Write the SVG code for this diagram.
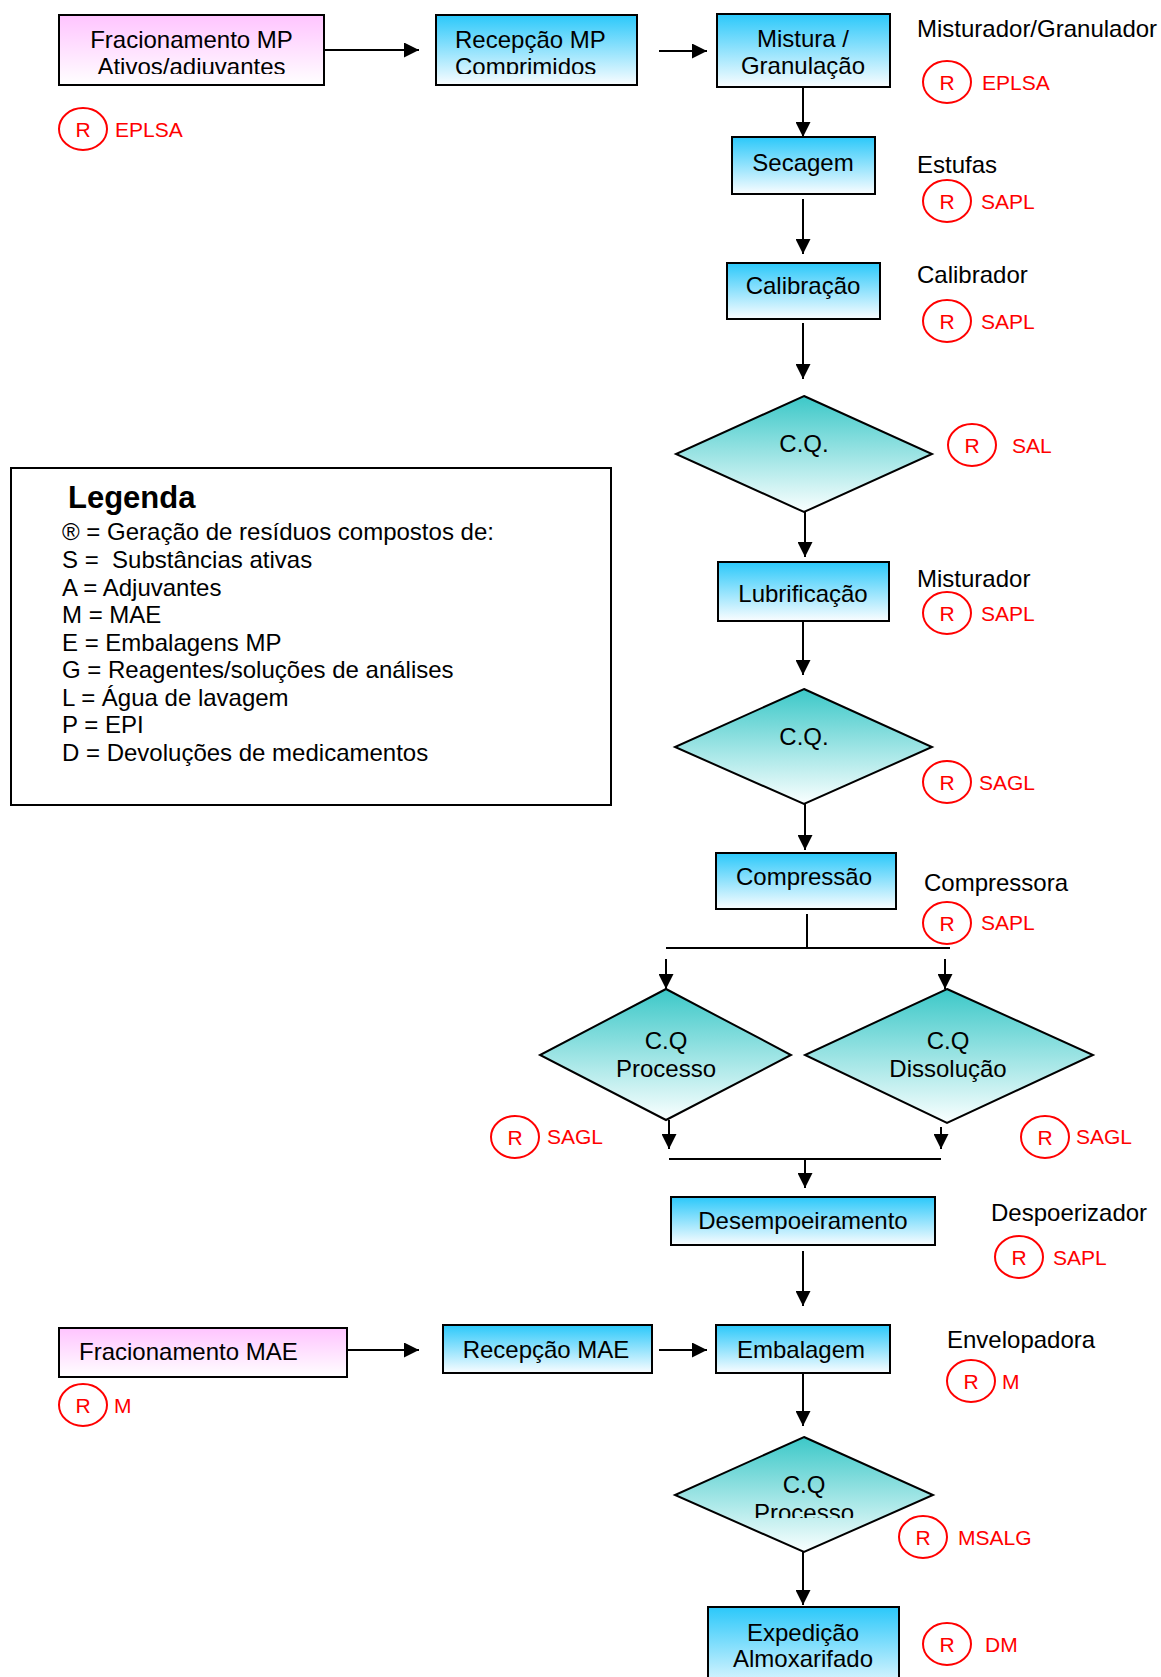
<svg xmlns="http://www.w3.org/2000/svg" width="1161" height="1677" viewBox="0 0 1161 1677">
<style>
text{font-family:"Liberation Sans",Arial,sans-serif;fill:#000}
.t{font-size:24px;text-anchor:middle}
.ts{font-size:24px}
.lbl{font-size:24px}
.box{stroke:#000;stroke-width:2}
.blue{fill:url(#gBlue)}
.pink{fill:url(#gPink)}
.dia{fill:url(#gTeal);stroke:#000;stroke-width:2}
.rc{fill:none;stroke:#FF0000;stroke-width:2}
.rr{font-size:21px;fill:#FF0000;text-anchor:middle}
.rt{font-size:21px;fill:#FF0000}
.ln{stroke:#000;stroke-width:2;fill:none}
.ar{stroke:#000;stroke-width:2;fill:none;marker-end:url(#ah)}
.leg{font-size:24px;white-space:pre}
</style>
<defs>
<linearGradient id="gBlue" x1="0" y1="0" x2="0" y2="1">
<stop offset="0" stop-color="#2BC8FA"/><stop offset="1" stop-color="#FAFDFF"/>
</linearGradient>
<linearGradient id="gPink" x1="0" y1="0" x2="0" y2="1">
<stop offset="0" stop-color="#FFC4FF"/><stop offset="1" stop-color="#FFFFFF"/>
</linearGradient>
<linearGradient id="gTeal" x1="0" y1="0" x2="0" y2="1">
<stop offset="0" stop-color="#3CC8C8"/><stop offset="1" stop-color="#FAFFFF"/>
</linearGradient>
<marker id="ah" markerWidth="15" markerHeight="15" refX="15" refY="7.5" orient="auto" markerUnits="userSpaceOnUse">
<path d="M0,0 L15,7.5 L0,15 z" fill="#000"/>
</marker>
<clipPath id="clipTop"><rect x="0" y="0" width="700" height="74"/></clipPath>
<clipPath id="clipCQ3"><rect x="600" y="1400" width="400" height="118"/></clipPath>
</defs>

<g id="connectors">
<line class="ar" x1="324" y1="50" x2="419" y2="50"/>
<line class="ar" x1="659" y1="51" x2="707" y2="51"/>
<line class="ar" x1="803" y1="87" x2="803" y2="137"/>
<line class="ar" x1="803" y1="199" x2="803" y2="254"/>
<line class="ar" x1="803" y1="323" x2="803" y2="379"/>
<line class="ar" x1="805" y1="512" x2="805" y2="557"/>
<line class="ar" x1="803" y1="621" x2="803" y2="675"/>
<line class="ar" x1="805" y1="804" x2="805" y2="850"/>
<line class="ln" x1="807" y1="914" x2="807" y2="948"/>
<line class="ln" x1="666" y1="948" x2="950" y2="948"/>
<line class="ar" x1="666" y1="959" x2="666" y2="989"/>
<line class="ar" x1="945" y1="959" x2="945" y2="989"/>
<line class="ar" x1="669" y1="1120" x2="669" y2="1149"/>
<line class="ar" x1="941" y1="1127" x2="941" y2="1149"/>
<line class="ln" x1="669" y1="1159" x2="941" y2="1159"/>
<line class="ar" x1="805" y1="1159" x2="805" y2="1188"/>
<line class="ar" x1="803" y1="1251" x2="803" y2="1306"/>
<line class="ar" x1="347" y1="1350" x2="419" y2="1350"/>
<line class="ar" x1="659" y1="1350" x2="707" y2="1350"/>
<line class="ar" x1="803" y1="1372" x2="803" y2="1426"/>
<line class="ar" x1="803" y1="1552" x2="803" y2="1605"/>
</g>

<g id="n-frac-mp">
<rect class="box pink" x="59" y="15" width="265" height="70"/>
<text class="t" x="191.5" y="48">Fracionamento MP</text>
<text class="t" x="191.5" y="75" clip-path="url(#clipTop)">Ativos/adiuvantes</text>
</g>
<g id="n-recep-mp">
<rect class="box blue" x="436" y="15" width="201" height="70"/>
<text class="ts" x="455" y="48">Recepção MP</text>
<text class="ts" x="455" y="75" clip-path="url(#clipTop)">Comprimidos</text>
</g>
<g id="n-mistura">
<rect class="box blue" x="717" y="14" width="173" height="73"/>
<text class="t" x="803" y="47">Mistura /</text>
<text class="t" x="803" y="74">Granulação</text>
</g>
<g id="n-secagem">
<rect class="box blue" x="732" y="137" width="143" height="57"/>
<text class="t" x="803" y="171">Secagem</text>
</g>
<g id="n-calibracao">
<rect class="box blue" x="727" y="263" width="153" height="56"/>
<text class="t" x="803" y="294">Calibração</text>
</g>
<g id="n-cq1">
<polygon class="dia" points="804,396 932,454 804,512 676,454"/>
<text class="t" x="804" y="452">C.Q.</text>
</g>
<g id="n-lubrificacao">
<rect class="box blue" x="718" y="562" width="171" height="59"/>
<text class="t" x="803" y="602">Lubrificação</text>
</g>
<g id="n-cq2">
<polygon class="dia" points="804,689 932,747 804,804 675,747"/>
<text class="t" x="804" y="745">C.Q.</text>
</g>
<g id="n-compressao">
<rect class="box blue" x="716" y="853" width="180" height="56"/>
<text class="t" x="804" y="885">Compressão</text>
</g>
<g id="n-cq-processo">
<polygon class="dia" points="666,989 791,1055 666,1120 540,1055"/>
<text class="t" x="666" y="1049">C.Q</text>
<text class="t" x="666" y="1077">Processo</text>
</g>
<g id="n-cq-dissolucao">
<polygon class="dia" points="947,989 1093,1055 947,1123 805,1055"/>
<text class="t" x="948" y="1049">C.Q</text>
<text class="t" x="948" y="1077">Dissolução</text>
</g>
<g id="n-desempoeiramento">
<rect class="box blue" x="671" y="1197" width="264" height="48"/>
<text class="t" x="803" y="1229">Desempoeiramento</text>
</g>
<g id="n-frac-mae">
<rect class="box pink" x="59" y="1328" width="288" height="49"/>
<text class="ts" x="79" y="1360">Fracionamento MAE</text>
</g>
<g id="n-recep-mae">
<rect class="box blue" x="443" y="1325" width="209" height="48"/>
<text class="t" x="546" y="1358">Recepção MAE</text>
</g>
<g id="n-embalagem">
<rect class="box blue" x="716" y="1325" width="174" height="48"/>
<text class="t" x="801" y="1358">Embalagem</text>
</g>
<g id="n-cq-processo2">
<polygon class="dia" points="804,1437 933,1495 804,1552 675,1495"/>
<text class="t" x="804" y="1493">C.Q</text>
<text class="t" x="804" y="1521" clip-path="url(#clipCQ3)">Processo</text>
</g>
<g id="n-expedicao">
<rect class="box blue" x="708" y="1607" width="191" height="90"/>
<text class="t" x="803" y="1641">Expedição</text>
<text class="t" x="803" y="1667">Almoxarifado</text>
</g>

<g id="equipment-labels">
<text class="lbl" x="917" y="37">Misturador/Granulador</text>
<text class="lbl" x="917" y="173">Estufas</text>
<text class="lbl" x="917" y="283">Calibrador</text>
<text class="lbl" x="917" y="587">Misturador</text>
<text class="lbl" x="924" y="891">Compressora</text>
<text class="lbl" x="991" y="1221">Despoerizador</text>
<text class="lbl" x="947" y="1348">Envelopadora</text>
</g>

<g id="residues">
<g><ellipse class="rc" cx="947" cy="82" rx="24" ry="21"/><text class="rr" x="947" y="89.5">R</text><text class="rt" x="982" y="89.5">EPLSA</text></g>
<g><ellipse class="rc" cx="83" cy="129" rx="24" ry="21"/><text class="rr" x="83" y="136.5">R</text><text class="rt" x="115" y="137">EPLSA</text></g>
<g><ellipse class="rc" cx="947" cy="201" rx="24" ry="21"/><text class="rr" x="947" y="208.5">R</text><text class="rt" x="981" y="209">SAPL</text></g>
<g><ellipse class="rc" cx="947" cy="321" rx="24" ry="21"/><text class="rr" x="947" y="328.5">R</text><text class="rt" x="981" y="329">SAPL</text></g>
<g><ellipse class="rc" cx="972" cy="445" rx="24" ry="21"/><text class="rr" x="972" y="452.5">R</text><text class="rt" x="1012" y="453">SAL</text></g>
<g><ellipse class="rc" cx="947" cy="613" rx="24" ry="21"/><text class="rr" x="947" y="620.5">R</text><text class="rt" x="981" y="621">SAPL</text></g>
<g><ellipse class="rc" cx="947" cy="782" rx="24" ry="21"/><text class="rr" x="947" y="789.5">R</text><text class="rt" x="979" y="790">SAGL</text></g>
<g><ellipse class="rc" cx="947" cy="923" rx="24" ry="21"/><text class="rr" x="947" y="930.5">R</text><text class="rt" x="981" y="930">SAPL</text></g>
<g><ellipse class="rc" cx="515" cy="1137" rx="24" ry="21"/><text class="rr" x="515" y="1144.5">R</text><text class="rt" x="547" y="1144">SAGL</text></g>
<g><ellipse class="rc" cx="1045" cy="1137" rx="24" ry="21"/><text class="rr" x="1045" y="1144.5">R</text><text class="rt" x="1076" y="1144">SAGL</text></g>
<g><ellipse class="rc" cx="1019" cy="1257" rx="24" ry="21"/><text class="rr" x="1019" y="1264.5">R</text><text class="rt" x="1053" y="1265">SAPL</text></g>
<g><ellipse class="rc" cx="971" cy="1381" rx="24" ry="21"/><text class="rr" x="971" y="1388.5">R</text><text class="rt" x="1002" y="1389">M</text></g>
<g><ellipse class="rc" cx="83" cy="1405" rx="24" ry="21"/><text class="rr" x="83" y="1412.5">R</text><text class="rt" x="114" y="1413">M</text></g>
<g><ellipse class="rc" cx="923" cy="1537" rx="24" ry="21"/><text class="rr" x="923" y="1544.5">R</text><text class="rt" x="958" y="1545">MSALG</text></g>
<g><ellipse class="rc" cx="947" cy="1644" rx="24" ry="21"/><text class="rr" x="947" y="1651.5">R</text><text class="rt" x="985" y="1652">DM</text></g>
</g>

<g id="legend">
<rect x="11" y="468" width="600" height="337" fill="#fff" stroke="#000" stroke-width="2"/>
<text x="68" y="508" style="font-size:31px;font-weight:bold">Legenda</text>
<text class="leg" x="62" y="540">® = Geração de resíduos compostos de:</text>
<text class="leg" x="62" y="568">S =  Substâncias ativas</text>
<text class="leg" x="62" y="596">A = Adjuvantes</text>
<text class="leg" x="62" y="623">M = MAE</text>
<text class="leg" x="62" y="651">E = Embalagens MP</text>
<text class="leg" x="62" y="678">G = Reagentes/soluções de análises</text>
<text class="leg" x="62" y="706">L = Água de lavagem</text>
<text class="leg" x="62" y="733">P = EPI</text>
<text class="leg" x="62" y="761">D = Devoluções de medicamentos</text>
</g>
</svg>
